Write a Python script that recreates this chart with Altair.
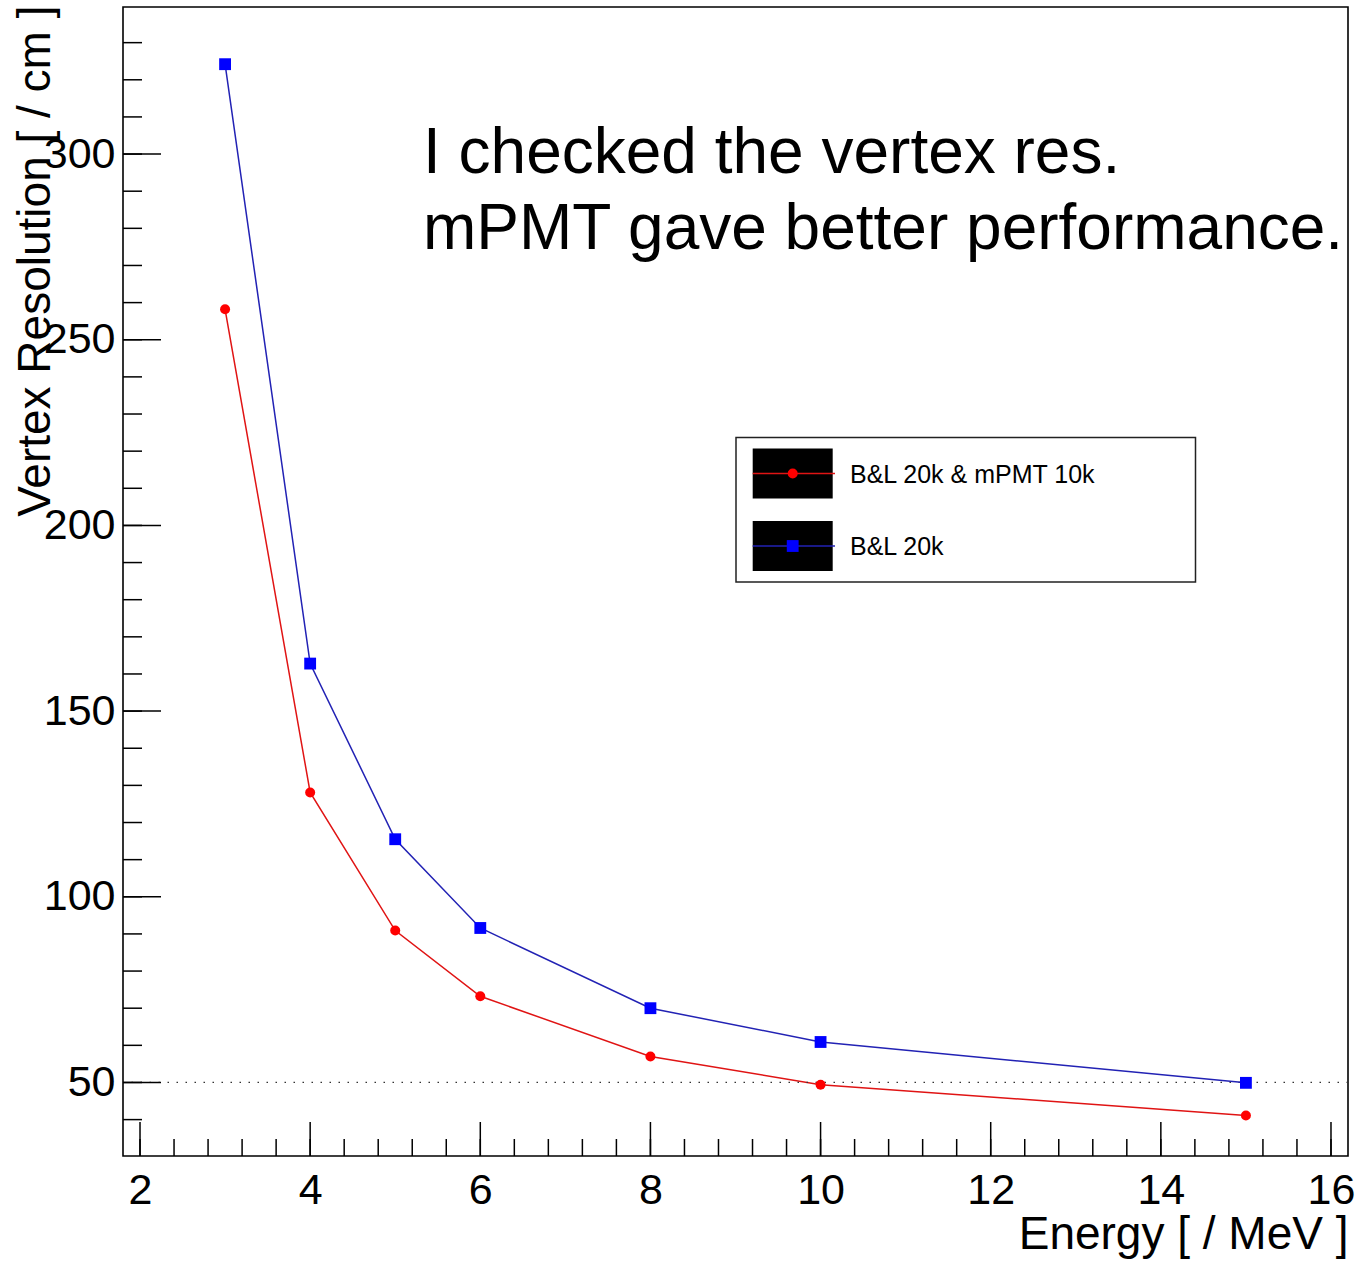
import altair as alt
import pandas as pd

# ---- data ----
energy = [3, 4, 5, 6, 8, 10, 15]
res_mpmt = [258.2, 128.1, 90.9, 73.2, 57.0, 49.4, 41.1]   # B&L 20k & mPMT 10k
res_bl = [324.2, 162.8, 115.5, 91.6, 70.0, 60.9, 49.9]    # B&L 20k

x_labels = [2, 4, 6, 8, 10, 12, 14, 16]
x_minor = [round(2 + 0.4 * i, 1) for i in range(36)]
y_labels = [50, 100, 150, 200, 250, 300]
y_minor = [40 + 10 * i for i in range(30)]
ref_level = [50]

series_names = ["B&L 20k & mPMT 10k", "B&L 20k"]
note_lines = ["I checked the vertex res.", "mPMT gave better performance."]

W, H = 1225, 1149
FONT = "Liberation Sans"
RED_LINE, RED_MARK = "#e01414", "#ff0000"
BLUE_LINE, BLUE_MARK = "#2222b4", "#0000ff"

df_r = pd.DataFrame({"energy": energy, "res": res_mpmt})
df_b = pd.DataFrame({"energy": energy, "res": res_bl})

xscale = alt.Scale(domain=[1.8, 16.2], nice=False, zero=False)
yscale = alt.Scale(domain=[30.2, 339.6], nice=False, zero=False)

xaxis = alt.Axis(values=x_labels, format="d", ticks=False, domain=False, grid=False,
                 labelFontSize=43, labelPadding=13, labelFlush=False,
                 labelColor="black", labelFont=FONT, labelOverlap=False,
                 title="Energy [ / MeV ]", titleFont=FONT, titleFontSize=46,
                 titleFontWeight="normal", titleColor="black",
                 titleAlign="right", titleBaseline="alphabetic",
                 titleAnchor="end", titleX=W, titleY=92)
yaxis = alt.Axis(values=y_labels, format="d", ticks=False, domain=False, grid=False,
                 labelFontSize=43, labelPadding=8, labelFlush=False,
                 labelColor="black", labelFont=FONT, labelOverlap=False,
                 title="Vertex Resolution [ / cm ]", titleFont=FONT,
                 titleFontSize=46, titleFontWeight="normal", titleColor="black",
                 titleAngle=270, titleAlign="right", titleBaseline="alphabetic",
                 titleAnchor="end", titleX=-74, titleY=-2)

X_AX = alt.X("energy:Q", scale=xscale, axis=xaxis)
Y_AX = alt.Y("res:Q", scale=yscale, axis=yaxis)
X = alt.X("energy:Q", scale=xscale)
Y = alt.Y("res:Q", scale=yscale)

line_r = alt.Chart(df_r).mark_line(color=RED_LINE, strokeWidth=1.5).encode(x=X_AX, y=Y_AX)
pts_r = alt.Chart(df_r).mark_point(shape="circle", filled=True, color=RED_MARK,
                                   size=100, opacity=1).encode(x=X, y=Y)
line_b = alt.Chart(df_b).mark_line(color=BLUE_LINE, strokeWidth=1.5).encode(x=X, y=Y)
pts_b = alt.Chart(df_b).mark_point(shape="square", filled=True, color=BLUE_MARK,
                                   size=140, opacity=1).encode(x=X, y=Y)

# dotted reference line
dotted = alt.Chart(pd.DataFrame({"res": ref_level})).mark_rule(
    color="#333333", strokeWidth=1.3, strokeDash=[1.5, 7.5]
).encode(y=Y)

# inward ticks (ROOT style)
xt_major = alt.Chart(pd.DataFrame({"energy": x_labels})).mark_rule(
    color="black", strokeWidth=1.5).encode(
    x=X, y=alt.value(H), y2=alt.value(H - 34))
xt_minor = alt.Chart(pd.DataFrame({"energy": x_minor})).mark_rule(
    color="black", strokeWidth=1.5).encode(
    x=X, y=alt.value(H), y2=alt.value(H - 17))
yt_major = alt.Chart(pd.DataFrame({"res": y_labels})).mark_rule(
    color="black", strokeWidth=1.5).encode(
    y=Y, x=alt.value(0), x2=alt.value(38))
yt_minor = alt.Chart(pd.DataFrame({"res": y_minor})).mark_rule(
    color="black", strokeWidth=1.5).encode(
    y=Y, x=alt.value(0), x2=alt.value(19))

one = alt.Data(values=[{}])

note = alt.Chart(one).mark_text(
    align="left", baseline="alphabetic", font=FONT, fontSize=64,
    lineHeight=76, color="black").encode(
    x=alt.value(300), y=alt.value(166), text=alt.value(note_lines))

# legend (drawn by hand, ROOT style)
leg_box = alt.Chart(one).mark_rect(fill="white", stroke="#222222", strokeWidth=1.5).encode(
    x=alt.value(613), x2=alt.value(1072.5), y=alt.value(430.5), y2=alt.value(575))
leg_layers = [leg_box]
entries = [
    (series_names[0], RED_LINE, RED_MARK, "circle", 100, 466.5),
    (series_names[1], BLUE_LINE, BLUE_MARK, "square", 140, 539.0),
]
for name, lc, mc, shp, sz, yc in entries:
    leg_layers.append(alt.Chart(one).mark_rect(fill="black").encode(
        x=alt.value(629.7), x2=alt.value(709.7), y=alt.value(yc - 25), y2=alt.value(yc + 25)))
    leg_layers.append(alt.Chart(one).mark_rule(color=lc, strokeWidth=1.5).encode(
        x=alt.value(629.7), x2=alt.value(712), y=alt.value(yc)))
    leg_layers.append(alt.Chart(one).mark_point(shape=shp, filled=True, color=mc,
                                                size=sz, opacity=1).encode(
        x=alt.value(669.7), y=alt.value(yc)))
    leg_layers.append(alt.Chart(one).mark_text(
        align="left", baseline="middle", font=FONT, fontSize=25, color="black").encode(
        x=alt.value(727), y=alt.value(yc + 1), text=alt.value(name)))

chart = alt.layer(
    line_r, dotted, line_b, pts_r, pts_b,
    xt_major, xt_minor, yt_major, yt_minor, note, *leg_layers
).properties(
    width=W, height=H,
    autosize=alt.AutoSizeParams(type="none"),
    padding={"left": 123, "top": 7, "right": 16, "bottom": 106},
    background="white",
).configure_view(stroke="black", strokeWidth=1.6)

chart.save("out.html", embed_options={"renderer": "svg", "actions": False})
